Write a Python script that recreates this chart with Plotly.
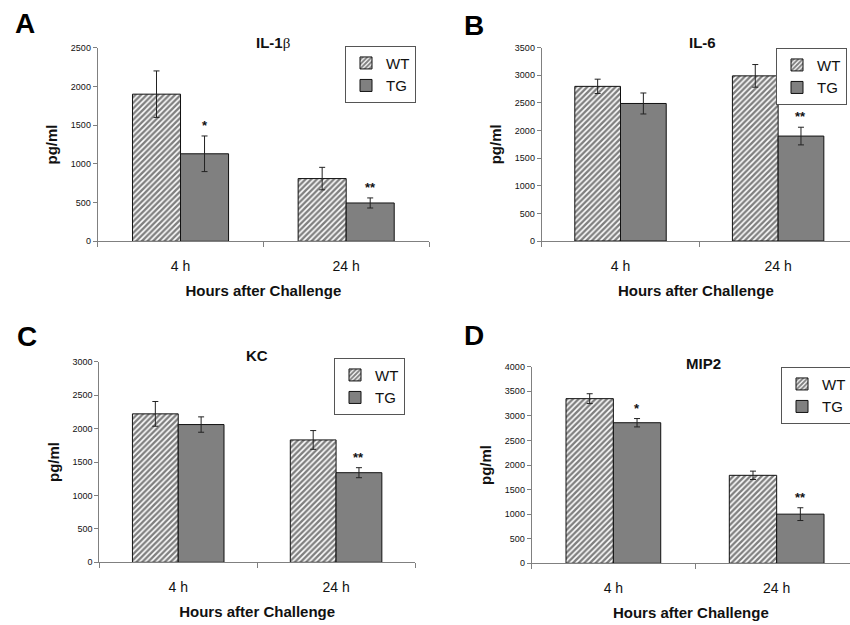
import plotly.graph_objects as go

# ---------------- data ----------------
categories = ["4 h", "24 h"]
series_names = ["WT", "TG"]

panel_letters = ["A", "B", "C", "D"]
panel_titles = ["<b>IL-1</b><span style=\"font-family:'Liberation Serif', serif\">β</span>",
                "<b>IL-6</b>", "<b>KC</b>", "<b>MIP2</b>"]
y_max = [2500, 3500, 3000, 4000]

il1b_wt = [1900, 810]
il1b_wt_err = [300, 145]
il1b_tg = [1130, 495]
il1b_tg_err = [230, 65]
il1b_sig = ["*", "**"]

il6_wt = [2800, 2990]
il6_wt_err = [130, 205]
il6_tg = [2490, 1900]
il6_tg_err = [190, 160]
il6_sig = ["", "**"]

kc_wt = [2220, 1830]
kc_wt_err = [185, 140]
kc_tg = [2060, 1340]
kc_tg_err = [115, 75]
kc_sig = ["", "**"]

mip2_wt = [3350, 1790]
mip2_wt_err = [100, 85]
mip2_tg = [2860, 1000]
mip2_tg_err = [85, 130]
mip2_sig = ["*", "**"]

# ---------------- layout geometry (pixels in 850x625) ----------------
W, H = 850, 625
FONT = "Arial, Liberation Sans, sans-serif"
BARGAP = 0.42

panels = [
    dict(wt=il1b_wt, wte=il1b_wt_err, tg=il1b_tg, tge=il1b_tg_err, sig=il1b_sig,
         x0=97.7, x1=429.0, xr=1.5, ytop=47.7, ybot=241.3,
         title_xy=(273, 43), letter_xy=(25, 23.5), leg=(345, 45.7)),
    dict(wt=il6_wt, wte=il6_wt_err, tg=il6_tg, tge=il6_tg_err, sig=il6_sig,
         x0=541.7, x1=850.0, xr=1.456, ytop=47.7, ybot=241.0,
         title_xy=(702, 43), letter_xy=(474, 25), leg=(776, 47.7)),
    dict(wt=kc_wt, wte=kc_wt_err, tg=kc_tg, tge=kc_tg_err, sig=kc_sig,
         x0=99.3, x1=415.0, xr=1.5, ytop=361.7, ybot=562.3,
         title_xy=(256.7, 355.7), letter_xy=(27, 336), leg=(334, 357.7)),
    dict(wt=mip2_wt, wte=mip2_wt_err, tg=mip2_tg, tge=mip2_tg_err, sig=mip2_sig,
         x0=531.7, x1=850.0, xr=1.449, ytop=366.7, ybot=563.3,
         title_xy=(703, 363), letter_xy=(474, 335.5), leg=(781, 366.7)),
]

fig = go.Figure()
layout = dict(
    width=W, height=H,
    margin=dict(l=0, r=0, t=0, b=0, pad=0, autoexpand=False),
    paper_bgcolor="white", plot_bgcolor="white",
    barmode="group", bargap=BARGAP, bargroupgap=0,
    font=dict(family=FONT, color="#111"),
    annotations=[],
)

for k, p in enumerate(panels):
    sfx = "" if k == 0 else str(k + 1)
    xa, ya = "x" + sfx, "y" + sfx
    leg = "legend" + sfx
    fig.add_trace(go.Bar(
        x=categories, y=p["wt"], name=series_names[0], xaxis=xa, yaxis=ya, legend=leg,
        marker=dict(color="white", line=dict(color="#111", width=1),
                    pattern=dict(shape="/", fgcolor="#000", bgcolor="white", size=4, solidity=0.6)),
        error_y=dict(type="data", array=p["wte"], color="#222", thickness=1, width=3),
    ))
    fig.add_trace(go.Bar(
        x=categories, y=p["tg"], name=series_names[1], xaxis=xa, yaxis=ya, legend=leg,
        marker=dict(color="#808080", line=dict(color="#111", width=1)),
        error_y=dict(type="data", array=p["tge"], color="#222", thickness=1, width=3),
    ))

    layout["xaxis" + sfx] = dict(
        domain=[p["x0"] / W, p["x1"] / W], anchor=ya, type="category",
        range=[-0.5, p["xr"]], showline=True, linecolor="#808080", linewidth=1,
        ticks="outside", tickson="boundaries", ticklen=5, tickcolor="#808080",
        tickfont=dict(size=14, color="#111", family=FONT), ticklabelstandoff=12,
        showgrid=False, zeroline=False, fixedrange=True,
        title=dict(text="<b>Hours after Challenge</b>", font=dict(size=15, color="#111"), standoff=12),
    )
    layout["yaxis" + sfx] = dict(
        domain=[1 - p["ybot"] / H, 1 - p["ytop"] / H], anchor=xa,
        range=[0, y_max[k]], dtick=500, showline=True, linecolor="#808080", linewidth=1,
        ticks="outside", ticklen=4, tickcolor="#808080",
        tickfont=dict(size=9, color="#111", family=FONT),
        showgrid=False, zeroline=False, fixedrange=True,
        title=dict(text="<b>pg/ml</b>", font=dict(size=15, color="#111"), standoff=9),
    )
    layout[leg] = dict(
        x=p["leg"][0] / W, y=1 - p["leg"][1] / H, xanchor="left", yanchor="top",
        xref="paper", yref="paper",
        bordercolor="#555", borderwidth=1, bgcolor="white",
        font=dict(size=15, color="#111", family=FONT), itemwidth=30, tracegroupgap=0,
    )
    # panel title
    layout["annotations"].append(dict(
        text=panel_titles[k], xref="paper", yref="paper",
        x=p["title_xy"][0] / W, y=1 - p["title_xy"][1] / H, xanchor="center", yanchor="middle",
        showarrow=False, font=dict(size=15, color="#111", family=FONT)))
    # panel letter
    layout["annotations"].append(dict(
        text="<b>" + panel_letters[k] + "</b>", xref="paper", yref="paper",
        x=p["letter_xy"][0] / W, y=1 - p["letter_xy"][1] / H, xanchor="center", yanchor="middle",
        showarrow=False, font=dict(size=28, color="#000", family=FONT)))
    # significance marks above TG bars
    for i, s in enumerate(p["sig"]):
        if s:
            layout["annotations"].append(dict(
                text="<b>" + s + "</b>", xref=xa, yref=ya,
                x=i + (1 - BARGAP) / 4, y=p["tg"][i] + p["tge"][i],
                xanchor="center", yanchor="bottom", yshift=1, showarrow=False,
                font=dict(size=13, color="#111", family=FONT)))

fig.update_layout(**layout)
fig.write_html("out.html")
